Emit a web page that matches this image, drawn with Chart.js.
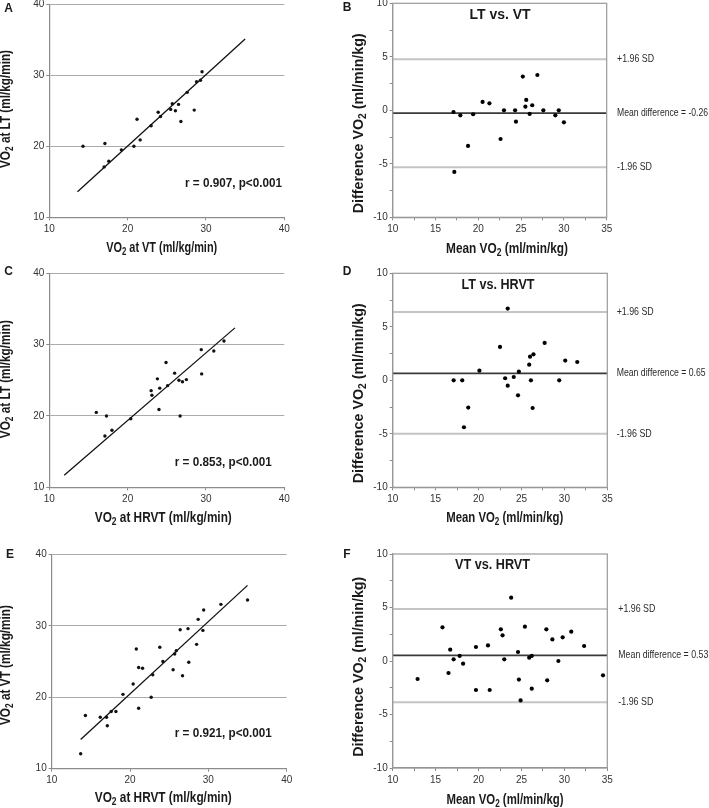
<!DOCTYPE html>
<html><head><meta charset="utf-8">
<script src="https://cdn.jsdelivr.net/npm/chart.js@4"></script>
<style>
html,body{margin:0;padding:0;background:#fff;}
#wrap{position:relative;width:709px;height:808px;overflow:hidden;background:#fff;}
canvas{position:absolute;left:0;top:0;}
</style></head><body>
<div id="wrap">
<canvas id="cA" width="709" height="808"></canvas>
<canvas id="cB" width="709" height="808"></canvas>
<canvas id="cC" width="709" height="808"></canvas>
<canvas id="cD" width="709" height="808"></canvas>
<canvas id="cE" width="709" height="808"></canvas>
<canvas id="cF" width="709" height="808"></canvas>
</div>
<script>
// ---------- DATA ----------
// A: VO2 at VT (x) vs VO2 at LT (y)
const vtA = [14.3, 17.1, 17.0, 17.6, 19.2, 20.8, 21.2, 21.6, 23.0, 23.9, 24.2, 25.5, 25.7, 26.1, 26.5, 26.8, 27.6, 28.5, 28.8, 29.3, 29.5];
const ltA = [20.0, 20.4, 17.1, 17.9, 19.5, 20.0, 23.8, 20.9, 22.9, 24.8, 24.2, 25.2, 26.0, 25.0, 25.9, 23.5, 27.6, 25.1, 29.1, 29.3, 30.5];
const fitAx = [13.6, 35.0];
const fitAy = [13.6, 35.1];
// B: LT vs VT Bland-Altman
const meanB = [17.1, 17.9, 19.4, 18.8, 17.2, 20.5, 21.3, 23.0, 22.6, 24.3, 24.4, 25.2, 25.5, 25.6, 26.0, 26.3, 26.9, 27.6, 29.0, 29.4, 30.0];
const diffB = [-0.16, -0.47, -0.37, -3.33, -5.76, 0.78, 0.65, 0.0, -2.68, 0.0, -1.06, 3.15, 0.34, 0.97, -0.34, 0.47, 3.3, 0.0, -0.47, 0.0, -1.12];
const limitsB = [4.77, -0.26, -5.33]; // +1.96 SD, mean, -1.96 SD
// C: VO2 at HRVT (x) vs VO2 at LT (y)
const hrvtC = [16.0, 17.3, 17.1, 18.0, 20.4, 23.0, 23.1, 23.8, 24.1, 24.0, 24.9, 25.1, 26.0, 26.55, 27.0, 27.5, 26.7, 29.4, 29.45, 31.0, 32.3];
const ltC = [20.5, 20.0, 17.2, 18.0, 19.6, 23.55, 22.9, 25.2, 23.9, 20.9, 27.5, 24.25, 26.0, 25.0, 24.8, 25.1, 20.0, 29.3, 25.9, 29.1, 30.5];
const fitCx = [11.9, 33.7];
const fitCy = [11.7, 32.35];
// D: LT vs HRVT Bland-Altman
const meanD = [17.1, 18.1, 18.3, 18.8, 20.1, 22.5, 23.1, 23.4, 23.4, 24.1, 24.6, 24.7, 25.9, 26.0, 26.1, 26.3, 26.4, 27.7, 29.4, 30.1, 31.5];
const diffD = [0.0, 0.0, -4.39, -2.55, 0.9, 3.12, 0.19, -0.5, 6.7, 0.31, -1.4, 0.81, 1.46, 2.21, 0.0, -2.59, 2.43, 3.49, 0.0, 1.84, 1.71];
const limitsD = [6.39, 0.65, -5.0];
// E: VO2 at HRVT (x) vs VO2 at VT (y)
const hrvtE = [13.7, 14.3, 16.2, 17.1, 17.0, 17.6, 18.2, 19.1, 20.4, 20.8, 21.1, 21.1, 21.6, 22.7, 22.9, 23.8, 24.2, 25.5, 25.7, 25.9, 26.4, 26.7, 27.5, 27.4, 28.5, 28.7, 29.4, 29.3, 31.6, 35.0];
const vtE = [12.1, 17.45, 17.2, 16.0, 17.2, 18.0, 18.0, 20.4, 21.85, 26.75, 24.15, 18.45, 24.05, 20.0, 23.15, 27.0, 25.0, 23.85, 26.05, 26.5, 29.45, 23.0, 24.9, 29.6, 27.4, 30.9, 32.2, 29.35, 33.0, 33.6];
const fitEx = [13.7, 35.0];
const fitEy = [14.1, 35.65];
// F: VT vs HRVT Bland-Altman
const meanF = [12.9, 15.8, 16.7, 16.5, 17.1, 17.8, 18.2, 19.7, 19.7, 21.1, 21.3, 22.6, 22.8, 23.0, 23.8, 24.6, 24.7, 24.9, 25.4, 25.9, 26.2, 26.2, 27.9, 28.0, 28.6, 29.3, 29.8, 30.8, 32.3, 34.5];
const diffF = [-1.68, 3.15, 1.06, -1.12, 0.16, 0.47, -0.25, 1.31, -2.71, 1.46, -2.71, 2.96, 2.4, 0.16, 5.92, 0.84, -1.74, -3.68, 3.21, 0.31, 0.47, -2.59, 2.96, -1.81, 2.02, 0.0, 2.21, 2.74, 1.4, -1.34];
const limitsF = [4.86, 0.53, -3.85];
// axis ranges / ticks
const scatterRange = [10, 40], scatterStep = 10;
const baXRange = [10, 35], baYRange = [-10, 10], baStep = 2.5, baMajor = 5;

// ---------- RENDERING ----------
const FONT = '"Liberation Sans", Arial, Helvetica, sans-serif';
function T(s){ return {t:s}; }
function S(s){ return {t:s, sub:true}; }

function drawRich(ctx, s){
  const b = s.bold ? 'bold ' : '';
  const fm = b + s.size + 'px ' + FONT;
  const fs = b + Math.round(s.size*0.68) + 'px ' + FONT;
  ctx.save();
  ctx.fillStyle = s.color || '#1a1a1a';
  ctx.textBaseline = 'middle'; ctx.textAlign = 'left';
  const ws = s.parts.map(p => { ctx.font = p.sub ? fs : fm; return ctx.measureText(p.t).width; });
  const total = ws.reduce((a,c)=>a+c,0);
  const k = s.w ? s.w/total : 1;
  ctx.translate(s.x, s.y);
  if (s.rot) ctx.rotate(-Math.PI/2);
  ctx.scale(k, 1);
  let cx = s.align === 'left' ? 0 : -total/2;
  s.parts.forEach((p,i) => { ctx.font = p.sub ? fs : fm; ctx.fillText(p.t, cx, p.sub ? s.size*0.3 : 0); cx += ws[i]; });
  ctx.restore();
}
function annot(texts, box){
  return { id:'annot', afterDraw(chart){
    const ctx = chart.ctx, a = chart.chartArea;
    if (box){ ctx.save(); ctx.strokeStyle = '#9a9a9a'; ctx.lineWidth = 1.2;
      ctx.strokeRect(a.left, a.top, a.right-a.left, a.bottom-a.top); ctx.restore(); }
    texts.forEach(t => drawRich(ctx, t));
  }};
}
function fitFix(s){ s.paddingLeft = 0; s.paddingRight = 0; s.paddingTop = 0; s.paddingBottom = 0; }
function axis(horizontal, range, step, major, gridOn){
  return {
    type:'linear', min:range[0], max:range[1], position: horizontal ? 'bottom' : 'left',
    afterFit(s){ if (horizontal) s.height = 30; else s.width = 40; fitFix(s); },
    ticks:{ stepSize:step, autoSkip:false, maxRotation:0, padding: horizontal ? 3 : 2, color:'#333',
      font:{family:FONT, size:10},
      callback:(v) => (Math.abs(v % major) < 1e-9 ? String(v) : '') },
    grid:{ drawOnChartArea: !!gridOn, drawTicks:true, tickLength:3, tickColor:'#888', lineWidth:1,
      color: gridOn ? (c => (c.tick && c.tick.value > range[0]) ? '#ababab' : 'rgba(0,0,0,0)') : '#888' },
    border:{ display:true, color:'#8c8c8c', width:1.2 }
  };
}
function pts(xs, ys){ return xs.map((x,i)=>({x, y:ys[i]})); }
function baseOpts(pad, sx, sy){
  return { responsive:false, animation:false, devicePixelRatio:1, events:[],
    layout:{padding:pad, autoPadding:false},
    plugins:{legend:{display:false}, tooltip:{enabled:false}},
    scales:{ x:sx, y:sy } };
}
function scatterChart(id, xs, ys, fx, fy, pad, texts){
  return new Chart(document.getElementById(id), {
    type:'scatter',
    data:{ datasets:[
      { data:pts(xs,ys), pointRadius:1.7, pointBackgroundColor:'#111', pointBorderWidth:0, showLine:false },
      { data:pts(fx,fy), showLine:true, borderColor:'#111', borderWidth:1.3, pointRadius:0 }
    ]},
    options: baseOpts(pad, axis(true, scatterRange, scatterStep, scatterStep, false), axis(false, scatterRange, scatterStep, scatterStep, true)),
    plugins:[annot(texts, false)]
  });
}
function baChart(id, ms, ds, lim, pad, texts){
  const ref = v => pts(baXRange, [v, v]);
  return new Chart(document.getElementById(id), {
    type:'scatter',
    data:{ datasets:[
      { data:pts(ms,ds), pointRadius:2.1, pointBackgroundColor:'#000', pointBorderWidth:0, showLine:false },
      { data:ref(lim[1]), showLine:true, borderColor:'#3a3a3a', borderWidth:1.6, pointRadius:0 },
      { data:ref(lim[0]), showLine:true, borderColor:'#c4c4c4', borderWidth:2, pointRadius:0 },
      { data:ref(lim[2]), showLine:true, borderColor:'#c4c4c4', borderWidth:2, pointRadius:0 }
    ]},
    options: baseOpts(pad, axis(true, baXRange, baStep, baMajor, false), axis(false, baYRange, baStep, baMajor, false)),
    plugins:[annot(texts, true)]
  });
}
const vo2 = (rest) => [T('VO'), S('2'), T(rest)];
const lbl = (ch, x, y) => ({parts:[T(ch)], x, y, size:12, bold:true});
const diffTitle = (y) => ({parts:[T('Difference VO'), S('2'), T(' (ml/min/kg)')], x:359.5, y, size:14, bold:true, rot:true, w:180});
const meanTitle = (x, y, w) => ({parts:[T('Mean VO'), S('2'), T(' (ml/min/kg)')], x, y, size:14, bold:true, w});
const side = (s, x, y, w) => ({parts:[T(s)], x, y, size:11, align:'left', w, color:'#2a2a2a'});

scatterChart('cA', vtA, ltA, fitAx, fitAy, {left:9.3, right:424.7, top:4.3, bottom:560.7}, [
  lbl('A', 8.5, 8.5),
  {parts:vo2(' at VT (ml/kg/min)'), x:161.7, y:248.3, size:14, bold:true, w:111},
  {parts:vo2(' at LT (ml/kg/min)'), x:6.5, y:109, size:14, bold:true, rot:true, w:118},
  {parts:[T('r = 0.907, p<0.001')], x:233.5, y:183.3, size:13, bold:true, w:97}
]);
baChart('cB', meanB, diffB, limitsB, {left:352.7, right:102.3, top:3.3, bottom:560.7}, [
  lbl('B', 347, 8),
  {parts:[T('LT vs. VT')], x:500, y:15, size:14, bold:true, w:61},
  diffTitle(123.3),
  meanTitle(507, 249.3, 122),
  side('+1.96 SD', 617, 59.3, 37),
  side('Mean difference = -0.26', 617, 113, 91),
  side('-1.96 SD', 617, 166.7, 35)
]);
scatterChart('cC', hrvtC, ltC, fitCx, fitCy, {left:9.3, right:424.7, top:273.3, bottom:290.7}, [
  lbl('C', 8.5, 272),
  {parts:vo2(' at HRVT (ml/kg/min)'), x:163.3, y:518.3, size:14, bold:true, w:137},
  {parts:vo2(' at LT (ml/kg/min)'), x:6.5, y:379.2, size:14, bold:true, rot:true, w:118},
  {parts:[T('r = 0.853, p<0.001')], x:223.3, y:462.7, size:13, bold:true, w:97}
]);
baChart('cD', meanD, diffD, limitsD, {left:352.7, right:101.7, top:273.3, bottom:290.7}, [
  lbl('D', 347, 272),
  {parts:[T('LT vs. HRVT')], x:498, y:285, size:14, bold:true, w:73},
  diffTitle(393.3),
  meanTitle(504.7, 518.3, 117),
  side('+1.96 SD', 616.7, 312, 37),
  side('Mean difference = 0.65', 616.7, 373.3, 89),
  side('-1.96 SD', 616.7, 433.7, 35)
]);
scatterChart('cE', hrvtE, vtE, fitEx, fitEy, {left:11.7, right:422.3, top:554.3, bottom:9.3}, [
  lbl('E', 10, 555),
  {parts:vo2(' at HRVT (ml/kg/min)'), x:163.3, y:798.3, size:14, bold:true, w:137},
  {parts:vo2(' at VT (ml/kg/min)'), x:6.5, y:665, size:14, bold:true, rot:true, w:120},
  {parts:[T('r = 0.921, p<0.001')], x:223.3, y:733.3, size:13, bold:true, w:97}
]);
baChart('cF', meanF, diffF, limitsF, {left:352.7, right:101.7, top:554, bottom:10}, [
  lbl('F', 347, 555),
  {parts:[T('VT vs. HRVT')], x:492.5, y:565, size:14, bold:true, w:75},
  diffTitle(666.7),
  meanTitle(505, 800, 117),
  side('+1.96 SD', 618.3, 609, 37),
  side('Mean difference = 0.53', 618.3, 655.3, 90),
  side('-1.96 SD', 618.3, 702.3, 35)
]);
</script>
</body></html>
